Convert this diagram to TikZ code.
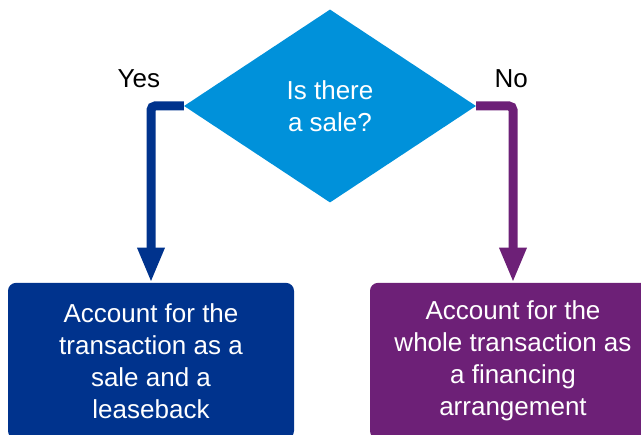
\documentclass[tikz,border=0pt]{standalone}
\usepackage{fontspec}
\setmainfont{Liberation Sans}
\usetikzlibrary{arrows.meta,positioning,shapes.geometric}

\definecolor{kblue}{HTML}{00338D}
\definecolor{kmid}{HTML}{0091DA}
\definecolor{kpurple}{HTML}{6D2077}

\begin{document}
\begin{tikzpicture}[
      x=1pt, y=1pt,
      question/.style={
         diamond,
         fill=kmid,
         text=white,
         inner sep=0pt,
         minimum width=292pt,
         minimum height=193pt,
         shape aspect=1.51,
         align=center,
         font=\fontsize{26pt}{32pt}\selectfont},
      outcome/.style={
         rectangle,
         rounded corners=8pt,
         text=white,
         minimum width=286pt,
         minimum height=156pt,
         align=center,
         font=\fontsize{26pt}{32pt}\selectfont},
      answer/.style={font=\fontsize{26pt}{32pt}\selectfont},
      branch/.style={line width=9pt, rounded corners=4pt,
         -{Triangle[width=25pt,length=35pt]}}
      ]
      \useasboundingbox (0,0) rectangle (641,435);
      \clip (0,0) rectangle (641,435);

      \node[question] (q) at (330,329) {Is there\\a sale?};
      \node[outcome,fill=kblue,below=80pt of q.south,xshift=-179pt] (yes)
         {Account for the\\transaction as a\\sale and a\\leaseback};
      \node[outcome,fill=kpurple,below=80pt of q.south,xshift=183pt] (no)
         {Account for the\\whole transaction as\\a financing\\arrangement};

      \node[answer] (yeslbl) at ([xshift=-45pt,yshift=27pt]q.west) {Yes};
      \node[answer] (nolbl) at ([xshift=35pt,yshift=27pt]q.east) {No};

    \foreach \b/\side/\c in {% target/diamond corner/colour
      yes/west/kblue,
      no/east/kpurple}
       \draw [branch,draw=\c] (q.\side) -| (\b.north);
    \end{tikzpicture}
\end{document}
